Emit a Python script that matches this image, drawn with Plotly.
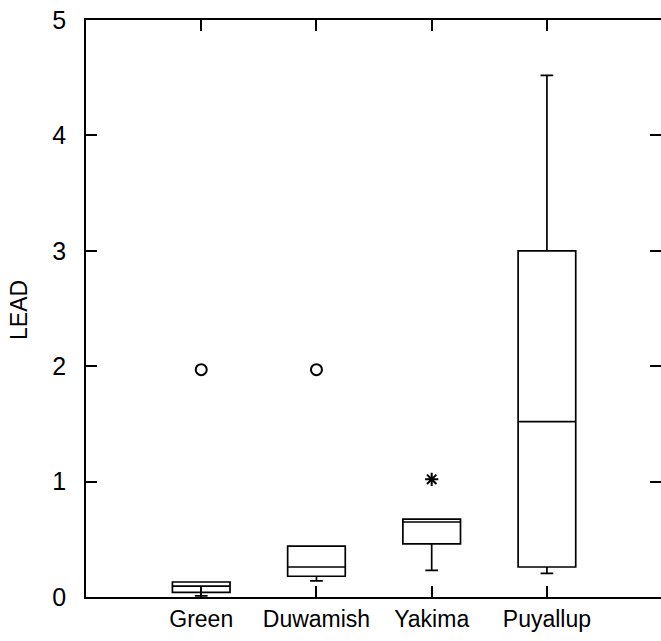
import plotly.graph_objects as go

categories = ["Green", "Duwamish", "Yakima", "Puyallup"]
positions = [1, 2, 3, 4]
q1 = [0.04, 0.18, 0.46, 0.26]
median = [0.095, 0.26, 0.65, 1.52]
q3 = [0.13, 0.44, 0.675, 3.0]
lowerfence = [0.01, 0.14, 0.23, 0.205]
upperfence = [0.13, 0.44, 0.675, 4.52]

out_circle_x = [1, 2]
out_circle_y = [1.97, 1.97]
out_star_x = [3]
out_star_y = [1.02]

y_ticks = [0, 1, 2, 3, 4, 5]

FONT = "Liberation Sans, Arial, Helvetica, sans-serif"

fig = go.Figure()
fig.add_trace(go.Box(
    x=positions, q1=q1, median=median, q3=q3,
    lowerfence=lowerfence, upperfence=upperfence,
    width=0.5, whiskerwidth=0.22, boxpoints=False,
    line=dict(color="black", width=1.7), fillcolor="rgba(0,0,0,0)",
    showlegend=False, hoverinfo="skip",
))
fig.add_trace(go.Scatter(
    x=out_circle_x, y=out_circle_y, mode="markers",
    marker=dict(symbol="circle-open", size=11, color="black", line=dict(width=2, color="black")),
    showlegend=False,
))
fig.add_trace(go.Scatter(
    x=out_star_x, y=out_star_y, mode="markers",
    marker=dict(symbol="asterisk-open", size=11, color="black", line=dict(width=2, color="black")),
    showlegend=False,
))
# invisible trace for the right-hand tick axis
fig.add_trace(go.Scatter(x=[1], y=[0], yaxis="y2", mode="markers",
                         marker=dict(opacity=0), showlegend=False, hoverinfo="skip"))

fig.update_layout(
    width=661, height=641,
    margin=dict(l=86, r=0, t=20, b=44, autoexpand=False),
    paper_bgcolor="white", plot_bgcolor="white",
    font=dict(family=FONT, color="black"),
    xaxis=dict(
        range=[0, 4.99], tickvals=positions, ticktext=categories,
        ticks="inside", ticklen=11, tickwidth=1.5, tickcolor="black",
        showline=True, linecolor="black", linewidth=1.6, mirror="ticks",
        showgrid=False, zeroline=False, automargin=False,
        tickfont=dict(size=23, family=FONT, color="black"),
        ticklabelstandoff=1, ticklabeloverflow="allow",
    ),
    yaxis=dict(
        range=[0, 5], tickvals=y_ticks,
        ticks="inside", ticklen=11, tickwidth=1.5, tickcolor="black",
        showline=True, linecolor="black", linewidth=1.6, mirror=False,
        showgrid=False, zeroline=False, automargin=False,
        tickfont=dict(size=25, family=FONT, color="black"),
        ticklabelstandoff=13, ticklabeloverflow="allow",
    ),
    yaxis2=dict(
        range=[0, 5], tickvals=y_ticks, overlaying="y", side="right",
        ticks="inside", ticklen=11, tickwidth=1.5, tickcolor="black",
        showline=False, showticklabels=False, showgrid=False, zeroline=False,
        automargin=False,
    ),
    annotations=[dict(
        text="LEAD", xref="paper", yref="paper",
        x=(19 - 86) / 575, y=(597 - 310) / 577,
        xanchor="center", yanchor="middle", textangle=-90, showarrow=False,
        borderpad=0,
        font=dict(size=23, family=FONT, color="black"),
    )],
)

fig.write_html("out.html", config={"displayModeBar": False},
               post_script="document.body.style.margin='0';")
